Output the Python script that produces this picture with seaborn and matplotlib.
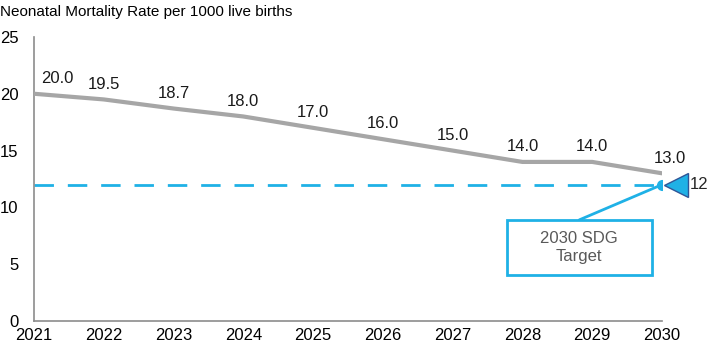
import numpy as np
import pandas as pd
import matplotlib.pyplot as plt
import seaborn as sns
from matplotlib.patches import Rectangle

years = [2021, 2022, 2023, 2024, 2025, 2026, 2027, 2028, 2029, 2030]
nmr = [20.0, 19.5, 18.7, 18.0, 17.0, 16.0, 15.0, 14.0, 14.0, 13.0]
target_year = 2030
target_value = 12
y_ticks = [0, 5, 10, 15, 20, 25]

GREY = "#a6a6a6"
BLUE = "#1fb1e6"
DARK_BLUE = "#2f5597"

sns.set_style("white")
plt.rcParams['font.family'] = ['Liberation Sans', 'DejaVu Sans']

df = pd.DataFrame({"year": years, "nmr": nmr})

fig = plt.figure(figsize=(7.08, 3.42), dpi=100)
ax = fig.add_axes([0.048, 0.0614, 0.887, 0.8306])

sns.lineplot(data=df, x="year", y="nmr", ax=ax, color=GREY, linewidth=3, zorder=3)

# target line
ax.plot([years[0], target_year], [target_value, target_value], color=BLUE,
        linewidth=2, dashes=(7, 5), zorder=2)
ax.plot(target_year, target_value, 'o', color=BLUE, markersize=7, zorder=4)
ax.plot(target_year + 0.2, target_value, '<', markersize=17, markerfacecolor=BLUE,
        markeredgecolor=DARK_BLUE, markeredgewidth=1, clip_on=False, zorder=4)
ax.annotate(str(target_value), xy=(target_year + 0.2, target_value), xytext=(10, 0),
            textcoords='offset points', va='center', ha='left', fontsize=12,
            annotation_clip=False)

# value labels
for i, (x, v) in enumerate(zip(years, nmr)):
    dx = 0
    if i == 0:
        dx = 17
    elif i == len(years) - 1:
        dx = 6
    ax.annotate(f"{v:.1f}", xy=(x, v), xytext=(dx, 11), textcoords='offset points',
                ha='center', va='center', fontsize=12, color='#1a1a1a')

# callout box
bx0, by0, bx1, by1 = 2027.78, 4.05, 2029.85, 8.9
ax.add_patch(Rectangle((bx0, by0), bx1 - bx0, by1 - by0, fill=True, facecolor='white',
                       edgecolor=BLUE, linewidth=2, zorder=5))
ax.text((bx0 + bx1) / 2, (by0 + by1) / 2, "2030 SDG\nTarget", ha='center', va='center',
        fontsize=12, color='#595959', linespacing=1.2, zorder=6)
ax.plot([(bx0 + bx1) / 2, target_year], [by1, target_value], color=BLUE, linewidth=2, zorder=3)

ax.set_xlim(years[0], years[-1])
ax.set_ylim(0, 25)
ax.set_xticks(years)
ax.set_yticks(y_ticks)
ax.set_xlabel("")
ax.set_ylabel("")
ax.tick_params(axis='x', length=0, pad=5, labelsize=12, colors='black')
ax.tick_params(axis='y', length=4, width=1, color='#8c8c8c', pad=7, labelsize=12, labelcolor='black')
for s in ['top', 'right']:
    ax.spines[s].set_visible(False)
for s in ['left', 'bottom']:
    ax.spines[s].set_color('#8c8c8c')
    ax.spines[s].set_linewidth(1.2)

fig.text(0.0, 0.965, "Neonatal Mortality Rate per 1000 live births", ha='left', va='center',
         fontsize=11, color='black')

fig.savefig("out.png", dpi=100)
